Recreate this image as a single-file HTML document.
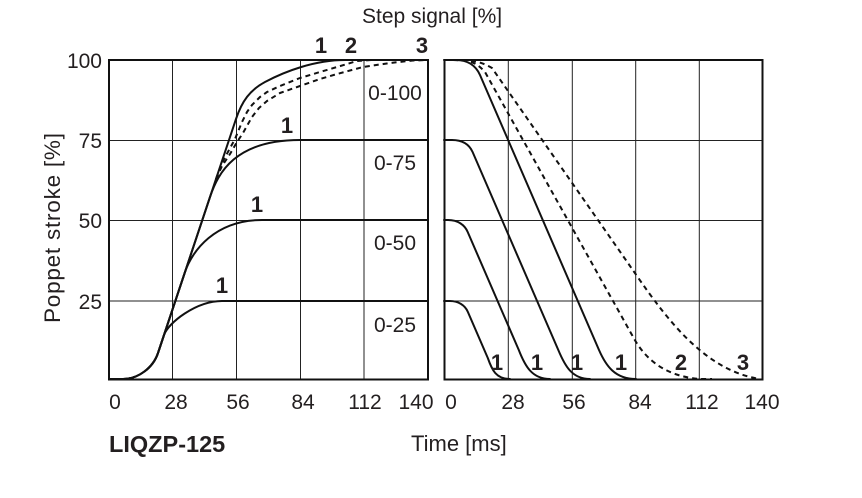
<!DOCTYPE html>
<html>
<head>
<meta charset="utf-8">
<style>
  html,body{margin:0;padding:0;background:#fff;}
  svg{display:block;}
  text{font-family:"Liberation Sans",Arial,sans-serif;fill:#231f20;}
  .b{font-weight:bold;font-size:22px;text-anchor:middle;}
  .t{font-size:21px;}
</style>
</head>
<body>
<svg width="862" height="498" viewBox="0 0 862 498" xmlns="http://www.w3.org/2000/svg">
  <rect width="862" height="498" fill="#fff"/>

  <!-- grid left -->
  <g stroke="#222" stroke-width="1" fill="none">
    <line x1="172.5" y1="60" x2="172.5" y2="380"/>
    <line x1="236.5" y1="60" x2="236.5" y2="380"/>
    <line x1="300.5" y1="60" x2="300.5" y2="380"/>
    <line x1="364" y1="60" x2="364" y2="380"/>
    <line x1="109" y1="140.5" x2="428" y2="140.5"/>
    <line x1="109" y1="220.5" x2="428" y2="220.5"/>
    <line x1="109" y1="301" x2="428" y2="301"/>
    <!-- grid right -->
    <line x1="508.3" y1="60" x2="508.3" y2="380"/>
    <line x1="572.3" y1="60" x2="572.3" y2="380"/>
    <line x1="635.7" y1="60" x2="635.7" y2="380"/>
    <line x1="699.3" y1="60" x2="699.3" y2="380"/>
    <line x1="444.5" y1="140.5" x2="762.5" y2="140.5"/>
    <line x1="444.5" y1="220.5" x2="762.5" y2="220.5"/>
    <line x1="444.5" y1="301" x2="762.5" y2="301"/>
  </g>

  <!-- frames -->
  <rect x="109" y="60" width="319" height="319.5" fill="none" stroke="#111" stroke-width="2"/>
  <rect x="444.5" y="60" width="318" height="319.5" fill="none" stroke="#111" stroke-width="2"/>

  <!-- left solid curves -->
  <g stroke="#111" stroke-width="2" fill="none" stroke-linejoin="round" stroke-linecap="round">
    <path d="M109,379 L123,379 C138,379 153,368 158,353 L164,335 C168,323 196,301 222,301 L428,301"/>
    <path d="M109,379 L123,379 C138,379 153,368 158,353 L185,272 C192,251 215,220 262,220 L428,220"/>
    <path d="M109,379 L123,379 C138,379 153,368 158,353 L210,197 C218,173 235,140 300,140 L428,140"/>
    <path d="M109,379 L123,379 C138,379 153,368 158,353 L236,119 C242,101 250,90 265,82 C285,71.3 315,60 345,60 L428,60"/>
  </g>
  <!-- left dashed curves -->
  <g stroke="#111" stroke-width="2" fill="none" stroke-dasharray="5 4" stroke-linejoin="round">
    <polyline points="216,179 222,163 229,150 235,139 242,122 247,112 252,105 260,97 267,92 280,86 300,78 320,72 337,67 357,61 372,60"/>
    <polyline points="216,179 222,166 230,154 237,142 243,133 252,117 259,108 267,101 280,93 300,86 320,79 337,74 363,67 390,63 413,60.5 428,60"/>
  </g>

  <!-- right solid curves -->
  <g stroke="#111" stroke-width="2" fill="none" stroke-linejoin="round" stroke-linecap="round">
    <path d="M444,60 L456,60 C468,60 476,66 480,75 L599,350 C606,366 615,379 636,379"/>
    <path d="M444,140 L452,140 C462,140 469,144 472.6,152 L558.3,350 C565,366 572,379 590,379"/>
    <path d="M444,220 L448,220 C458,220 464.7,225 467.7,232 L518.8,350 C525,366 532,379 550,379"/>
    <path d="M444,301 L450,301 C458,301 465,305 467.9,312 L487.8,358 C492,370 496,379 510,379"/>
  </g>
  <!-- right dashed curves -->
  <g stroke="#111" stroke-width="2" fill="none" stroke-dasharray="5 4" stroke-linejoin="round">
    <path d="M444,60 C468,60 474,60 485,72 L632,335 C642,354 660,376 700,379 L712,379"/>
    <path d="M444,60 C470,60 478,60 492,68 L630,266 C660,309 700,370 760,379"/>
  </g>

  <!-- title -->
  <text class="t" x="362" y="23">Step signal [%]</text>

  <!-- bold curve labels -->
  <text class="b" x="321" y="53">1</text>
  <text class="b" x="351" y="53">2</text>
  <text class="b" x="422" y="53">3</text>
  <text class="b" x="287" y="133">1</text>
  <text class="b" x="257" y="212">1</text>
  <text class="b" x="222" y="293">1</text>

  <text class="b" x="497" y="370">1</text>
  <text class="b" x="537" y="370">1</text>
  <text class="b" x="577" y="370">1</text>
  <text class="b" x="621" y="370">1</text>
  <text class="b" x="681" y="370">2</text>
  <text class="b" x="743" y="370">3</text>

  <!-- range labels -->
  <text class="t" x="395" y="100" text-anchor="middle">0-100</text>
  <text class="t" x="395" y="170" text-anchor="middle">0-75</text>
  <text class="t" x="395" y="250" text-anchor="middle">0-50</text>
  <text class="t" x="395" y="332" text-anchor="middle">0-25</text>

  <!-- y ticks -->
  <text class="t" x="102" y="68" text-anchor="end">100</text>
  <text class="t" x="102" y="148" text-anchor="end">75</text>
  <text class="t" x="102" y="228" text-anchor="end">50</text>
  <text class="t" x="102" y="309" text-anchor="end">25</text>

  <!-- y label -->
  <text x="0" y="0" font-size="22.5" text-anchor="middle" textLength="190" lengthAdjust="spacing" transform="translate(60,228) rotate(-90)">Poppet stroke [%]</text>

  <!-- x ticks left -->
  <text class="t" x="115" y="409" text-anchor="middle">0</text>
  <text class="t" x="176" y="409" text-anchor="middle">28</text>
  <text class="t" x="238" y="409" text-anchor="middle">56</text>
  <text class="t" x="303" y="409" text-anchor="middle">84</text>
  <text class="t" x="365" y="409" text-anchor="middle">112</text>
  <text class="t" x="416" y="409" text-anchor="middle">140</text>
  <!-- x ticks right -->
  <text class="t" x="451" y="409" text-anchor="middle">0</text>
  <text class="t" x="513" y="409" text-anchor="middle">28</text>
  <text class="t" x="574" y="409" text-anchor="middle">56</text>
  <text class="t" x="640" y="409" text-anchor="middle">84</text>
  <text class="t" x="702" y="409" text-anchor="middle">112</text>
  <text class="t" x="762" y="409" text-anchor="middle">140</text>

  <!-- bottom labels -->
  <text x="109" y="452" font-size="23.5" font-weight="bold">LIQZP-125</text>
  <text x="411" y="451" font-size="22">Time [ms]</text>
</svg>
</body>
</html>
